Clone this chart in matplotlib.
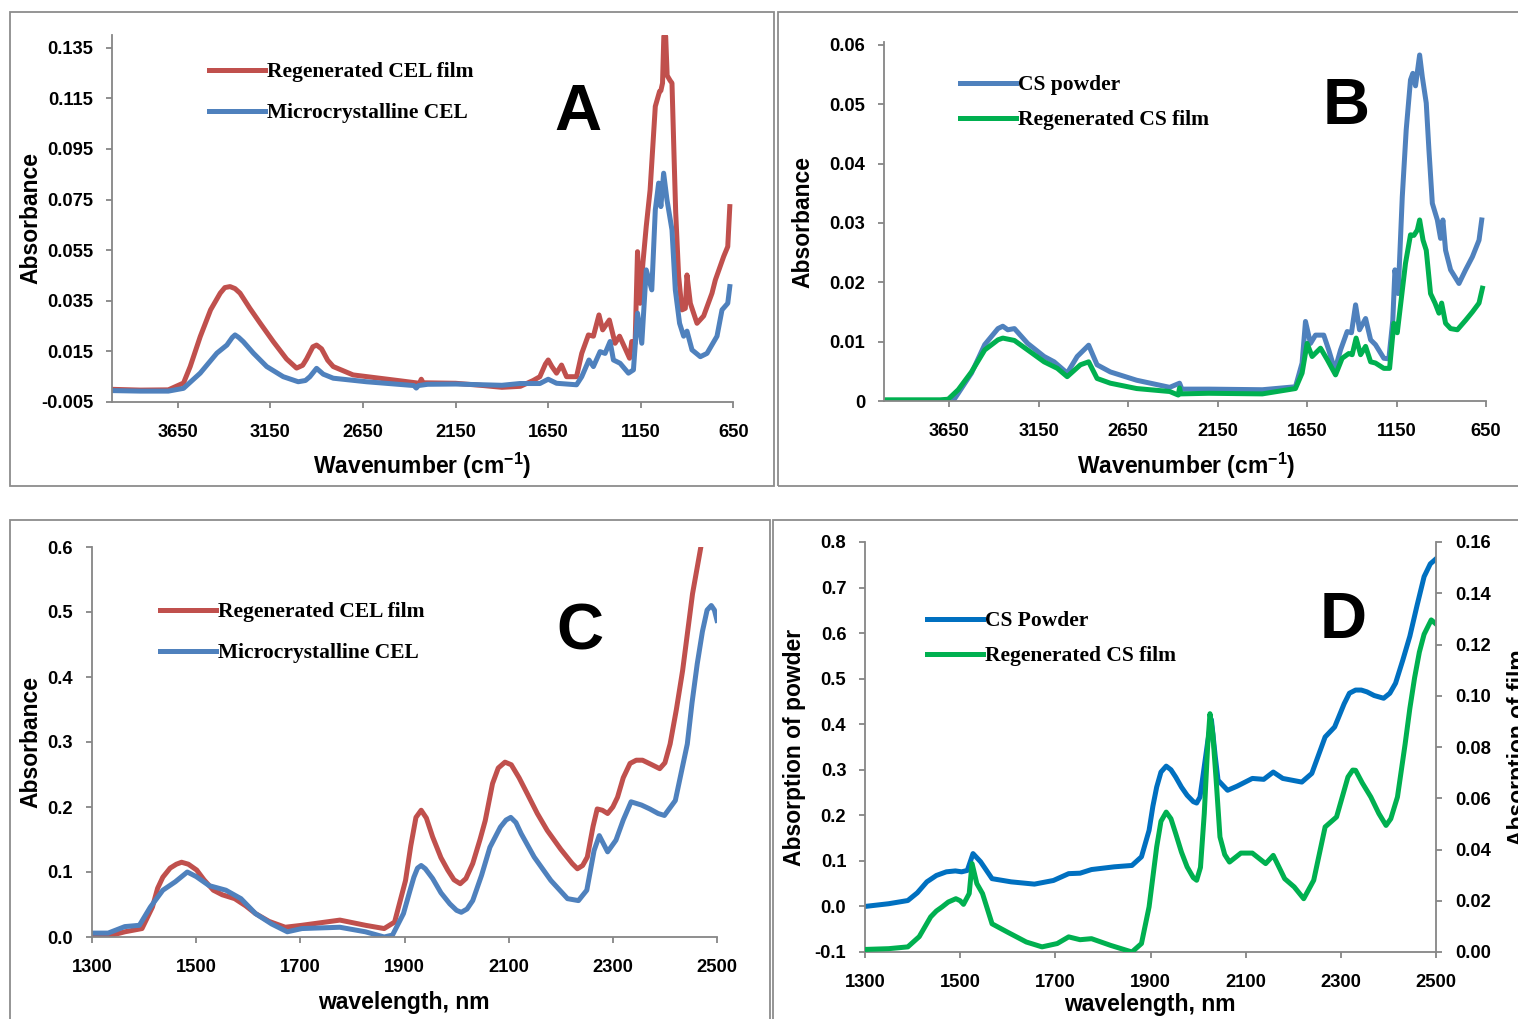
import numpy as np
import matplotlib
matplotlib.use("Agg")
import matplotlib.pyplot as plt
from matplotlib.patches import Rectangle
from matplotlib.font_manager import FontProperties

# ---- panel A : FTIR, cellulose ----
wn_a_red = [4000, 3850, 3700, 3618, 3582, 3528, 3472, 3420, 3395, 3367, 3340, 3313, 3260,
            3205, 3133, 3062, 3008, 2975, 2954, 2920, 2900, 2873, 2840, 2810, 2703, 2452,
            2345, 2335, 2325, 2150, 2000, 1900, 1800, 1731, 1695, 1665, 1650, 1630, 1605,
            1578, 1551, 1497, 1469, 1433, 1406, 1376, 1356, 1320, 1289, 1265, 1235, 1211,
            1199, 1181, 1168, 1154, 1139, 1121, 1100, 1072, 1049, 1042, 1033, 1026, 1016,
            1008, 992, 982, 970, 962, 946, 928, 910, 901, 883, 847, 811, 766, 748, 703,
            681, 670]
abs_a_red = [0.0, -0.0003, -0.0002, 0.0025, 0.009, 0.0208, 0.0314, 0.038, 0.0402, 0.0406,
             0.0398, 0.038, 0.032, 0.0262, 0.0188, 0.012, 0.0084, 0.0095, 0.012, 0.0168,
             0.0175, 0.016, 0.0115, 0.009, 0.0057, 0.0034, 0.0024, 0.004, 0.0026, 0.0024,
             0.0015, 0.0008, 0.0012, 0.0035, 0.005, 0.01, 0.0116, 0.009, 0.0064, 0.0096,
             0.005, 0.005, 0.0142, 0.0215, 0.021, 0.0294, 0.0235, 0.0274, 0.0182, 0.021,
             0.0162, 0.0123, 0.0189, 0.0182, 0.0544, 0.034, 0.0498, 0.0643, 0.0788, 0.1118,
             0.1177, 0.118, 0.121, 0.1395, 0.1395, 0.124, 0.122, 0.121, 0.09, 0.07, 0.0446,
             0.0314, 0.032, 0.0452, 0.034, 0.0261, 0.029, 0.038, 0.0432, 0.0525, 0.0564,
             0.0722]

wn_a_blue = [4000, 3850, 3700, 3618, 3528, 3438, 3384, 3355, 3340, 3320, 3295, 3241, 3169,
             3080, 2999, 2960, 2936, 2900, 2864, 2810, 2631, 2375, 2362, 2350, 2300, 2150,
             1900, 1803, 1695, 1650, 1605, 1497, 1469, 1430, 1406, 1370, 1343, 1316, 1298,
             1262, 1217, 1190, 1168, 1145, 1121, 1091, 1072, 1054, 1042, 1027, 1009, 982,
             964, 941, 919, 901, 874, 829, 793, 739, 712, 681, 670]
abs_a_blue = [-0.0005, -0.0007, -0.0007, 0.0004, 0.0064, 0.0143, 0.0175, 0.0205, 0.0215,
              0.0205, 0.0188, 0.0143, 0.009, 0.005, 0.003, 0.0035, 0.005, 0.0083, 0.006,
              0.0044, 0.003, 0.0015, 0.0005, 0.0015, 0.002, 0.0021, 0.0016, 0.0023, 0.0023,
              0.004, 0.0024, 0.0018, 0.005, 0.0116, 0.009, 0.0149, 0.0142, 0.0189, 0.0116,
              0.0103, 0.0064, 0.0077, 0.0301, 0.0182, 0.0472, 0.0393, 0.0709, 0.0815, 0.0722,
              0.0854, 0.0749, 0.063, 0.0393, 0.0261, 0.021, 0.023, 0.0156, 0.0129, 0.0142,
              0.021, 0.0314, 0.034, 0.0406]

# ---- panel B : FTIR, chitosan ----
wn_b_blue = [4000, 3660, 3640, 3600, 3526, 3452, 3378, 3351, 3323, 3286, 3212, 3120, 3064,
             2991, 2935, 2871, 2824, 2750, 2603, 2418, 2363, 2350, 2200, 1900, 1715, 1678,
             1659, 1631, 1603, 1557, 1529, 1495, 1463, 1426, 1402, 1379, 1357, 1323, 1295,
             1268, 1221, 1193, 1171, 1159, 1141, 1118, 1096, 1072, 1059, 1044, 1021, 1006,
             984, 969, 950, 922, 904, 891, 876, 848, 801, 764, 726, 689, 674]
abs_b_blue = [-0.001, -0.001, -0.0005, 0.0013, 0.0047, 0.0095, 0.0122, 0.0126, 0.012, 0.0122,
              0.0097, 0.0075, 0.0066, 0.0047, 0.0075, 0.0094, 0.0061, 0.0049, 0.0035,
              0.0023, 0.003, 0.002, 0.002, 0.0019, 0.0024, 0.0064, 0.0134, 0.0097, 0.0111,
              0.0111, 0.0086, 0.0052, 0.0086, 0.0117, 0.0115, 0.0162, 0.012, 0.0139, 0.0103,
              0.0095, 0.0072, 0.0071, 0.0136, 0.0221, 0.0181, 0.0344, 0.0457, 0.0541, 0.0552,
              0.0531, 0.0583, 0.0546, 0.0502, 0.0423, 0.0333, 0.0305, 0.0274, 0.0305, 0.0254,
              0.0221, 0.0198, 0.0221, 0.0243, 0.0271, 0.0305]

wn_b_green = [4000, 3700, 3656, 3600, 3526, 3452, 3378, 3351, 3286, 3212, 3120, 3046, 2991,
              2917, 2871, 2824, 2750, 2603, 2418, 2370, 2363, 2356, 2200, 1900, 1715, 1678,
              1650, 1622, 1575, 1538, 1491, 1454, 1417, 1398, 1376, 1351, 1323, 1295, 1268,
              1221, 1189, 1165, 1146, 1122, 1100, 1072, 1053, 1034, 1021, 1002, 984, 960, 935,
              913, 898, 876, 848, 810, 764, 726, 689, 670]
abs_b_green = [0.0002, 0.0002, 0.0003, 0.0019, 0.0049, 0.0086, 0.0103, 0.0106, 0.0102,
               0.0086, 0.0066, 0.0055, 0.0041, 0.0061, 0.0066, 0.0038, 0.003, 0.0021, 0.0016,
               0.001, 0.0022, 0.0012, 0.0013, 0.0012, 0.0021, 0.0047, 0.0097, 0.0075, 0.0089,
               0.007, 0.0044, 0.0072, 0.008, 0.0078, 0.0106, 0.0078, 0.0092, 0.0066, 0.0064,
               0.0055, 0.0055, 0.0131, 0.0115, 0.0176, 0.0232, 0.028, 0.0279, 0.0288, 0.0305,
               0.0271, 0.0254, 0.0181, 0.0165, 0.0148, 0.0165, 0.0131, 0.0122, 0.012, 0.0136,
               0.015, 0.0165, 0.019]

# ---- panel C : NIR, cellulose ----
nm_c_red = [1300, 1339, 1363, 1396, 1416, 1426, 1436, 1450, 1462, 1472, 1485, 1501, 1515,
            1533, 1550, 1574, 1595, 1614, 1640, 1671, 1703, 1776, 1825, 1861, 1881, 1902,
            1912, 1922, 1932, 1942, 1954, 1970, 1983, 1995, 2007, 2018, 2031, 2045, 2055,
            2069, 2080, 2093, 2105, 2120, 2136, 2155, 2174, 2200, 2222, 2232, 2242, 2251,
            2262, 2270, 2280, 2290, 2300, 2309, 2320, 2333, 2345, 2357, 2375, 2390, 2400,
            2410, 2422, 2434, 2453, 2469]
abs_c_red = [0.0, 0.003, 0.008, 0.013, 0.046, 0.075, 0.092, 0.106, 0.112, 0.115, 0.112,
             0.103, 0.088, 0.072, 0.065, 0.059, 0.048, 0.036, 0.024, 0.015, 0.018, 0.026,
             0.018, 0.013, 0.023, 0.087, 0.14, 0.184, 0.195, 0.183, 0.154, 0.122, 0.103,
             0.088, 0.082, 0.09, 0.113, 0.15, 0.179, 0.236, 0.26, 0.269, 0.265, 0.245, 0.22,
             0.19, 0.164, 0.135, 0.113, 0.105, 0.11, 0.123, 0.17, 0.197, 0.195, 0.19, 0.2,
             0.215, 0.245, 0.267, 0.272, 0.272, 0.265, 0.259, 0.268, 0.297, 0.35, 0.41,
             0.528, 0.6]

nm_c_blue = [1300, 1331, 1363, 1391, 1412, 1436, 1460, 1483, 1500, 1525, 1557, 1586, 1614,
             1645, 1675, 1703, 1776, 1825, 1861, 1877, 1898, 1910, 1918, 1925, 1932, 1940,
             1954, 1970, 1987, 2000, 2009, 2020, 2031, 2048, 2064, 2084, 2095, 2104, 2114,
             2124, 2149, 2181, 2213, 2234, 2250, 2264, 2274, 2290, 2306, 2320, 2335, 2355,
             2371, 2387, 2399, 2420, 2443, 2452, 2462, 2472, 2481, 2489, 2495, 2500]
abs_c_blue = [0.006, 0.006, 0.016, 0.018, 0.046, 0.072, 0.085, 0.1, 0.093, 0.079, 0.072,
              0.059, 0.036, 0.02, 0.008, 0.013, 0.015, 0.008, 0.0, 0.003, 0.036, 0.07, 0.092,
              0.106, 0.11, 0.105, 0.09, 0.068, 0.051, 0.041, 0.038, 0.043, 0.056, 0.095,
              0.138, 0.169, 0.18, 0.184, 0.176, 0.159, 0.123, 0.087, 0.059, 0.056, 0.072,
              0.133, 0.156, 0.131, 0.149, 0.18, 0.208, 0.203, 0.197, 0.19, 0.187, 0.21, 0.297,
              0.36, 0.42, 0.47, 0.503, 0.51, 0.503, 0.487]

# ---- panel D : NIR, chitosan (powder on left axis, film on right axis) ----
nm_d_powder = [1300, 1350, 1390, 1410, 1430, 1450, 1471, 1490, 1503, 1515, 1527, 1543, 1567,
               1607, 1656, 1696, 1728, 1752, 1776, 1824, 1861, 1881, 1897, 1905, 1913, 1922,
               1933, 1943, 1953, 1965, 1977, 1990, 1997, 2004, 2009, 2020, 2028, 2036, 2042,
               2062, 2082, 2114, 2138, 2158, 2178, 2218, 2239, 2267, 2287, 2307, 2318, 2331,
               2343, 2355, 2370, 2390, 2403, 2415, 2430, 2445, 2460, 2475, 2488, 2500]
abs_d_powder = [0.0, 0.006, 0.013, 0.03, 0.054, 0.068, 0.076, 0.078, 0.076, 0.079, 0.116,
                0.098, 0.061, 0.054, 0.049, 0.057, 0.072, 0.073, 0.081, 0.087, 0.09, 0.109,
                0.167, 0.22, 0.262, 0.295, 0.308, 0.3, 0.284, 0.262, 0.244, 0.23, 0.227, 0.24,
                0.277, 0.36, 0.41, 0.33, 0.277, 0.255, 0.264, 0.281, 0.279, 0.295, 0.281,
                0.273, 0.292, 0.372, 0.394, 0.445, 0.468, 0.475, 0.475, 0.471, 0.463, 0.457,
                0.468, 0.49, 0.54, 0.593, 0.66, 0.724, 0.752, 0.763]

nm_d_film = [1300, 1350, 1390, 1414, 1438, 1450, 1462, 1475, 1491, 1500, 1507, 1519, 1525,
             1535, 1547, 1567, 1599, 1639, 1672, 1704, 1728, 1752, 1776, 1816, 1861, 1881,
             1897, 1913, 1922, 1933, 1943, 1953, 1965, 1977, 1990, 1997, 2005, 2013, 2020,
             2025, 2031, 2038, 2046, 2056, 2066, 2090, 2114, 2142, 2158, 2182, 2202, 2222,
             2243, 2267, 2291, 2315, 2325, 2331, 2345, 2363, 2380, 2395, 2405, 2419, 2435,
             2445, 2455, 2465, 2475, 2490, 2500]
abs_d_film = [0.001, 0.0013, 0.002, 0.006, 0.0137, 0.016, 0.0176, 0.0195, 0.0208, 0.02,
              0.0186, 0.0228, 0.0345, 0.0267, 0.0228, 0.011, 0.0078, 0.0039, 0.002, 0.0033,
              0.0059, 0.0048, 0.0052, 0.0026, 0.0, 0.0033, 0.0176, 0.041, 0.051, 0.0546,
              0.052, 0.0462, 0.039, 0.0332, 0.029, 0.028, 0.033, 0.054, 0.08, 0.093, 0.085,
              0.067, 0.0449, 0.038, 0.0351, 0.0386, 0.0386, 0.0345, 0.0377, 0.0286, 0.0254,
              0.0208, 0.028, 0.0488, 0.0527, 0.0683, 0.071, 0.0709, 0.066, 0.0605, 0.054,
              0.0494, 0.052, 0.0605, 0.081, 0.095, 0.107, 0.117, 0.124, 0.1296, 0.128]

RED = "#C0504D"
BLUE = "#4F81BD"
GREEN = "#00B050"
BLUE_D = "#0070C0"
GRAY = "#868686"
LW = 3.6

W, H = 1518, 1019
fig = plt.figure(figsize=(W / 100, H / 100), dpi=100)
plt.rcParams["mathtext.fontset"] = "custom"
plt.rcParams["mathtext.rm"] = "Liberation Sans:bold"
plt.rcParams["mathtext.bf"] = "Liberation Sans:bold"

SANS = "Liberation Sans"
TICK_FS = 13.2
LAB_FS = 16.5
LEG_FONT = FontProperties(family="Liberation Serif", weight="bold", size=15.5)


def px_axes(l, t, r, b):
    return fig.add_axes([l / W, 1 - b / H, (r - l) / W, (b - t) / H])


def style(ax, right=False):
    for s in ["top", "right", "left", "bottom"]:
        ax.spines[s].set_visible(False)
    ax.spines["bottom"].set_visible(not right)
    ax.spines["right" if right else "left"].set_visible(True)
    for s in ax.spines.values():
        s.set_color(GRAY)
        s.set_linewidth(1.3)
    ax.tick_params(direction="out", length=4.5, width=1.3, color=GRAY, pad=9,
                   labelsize=TICK_FS)
    ax.tick_params(axis="x", pad=11)
    ax.set_facecolor("none")
    for lab in ax.get_xticklabels() + ax.get_yticklabels():
        lab.set_fontfamily(SANS)
        lab.set_fontweight("bold")


def frame(l, t, r, b):
    fig.add_artist(Rectangle((l / W, 1 - b / H), (r - l) / W, (b - t) / H,
                             transform=fig.transFigure, fill=False, ec="#8c8c8c", lw=1.3))


def legend(ax, handles, x, y_top, spacing):
    ax.legend(handles=handles, loc="upper left", bbox_to_anchor=(x / W, 1 - y_top / H),
              bbox_transform=fig.transFigure, frameon=False, prop=LEG_FONT,
              handlelength=2.6, handletextpad=0.1, labelspacing=spacing,
              borderpad=0, borderaxespad=0)


def ftext(x, y, s, **kw):
    fig.text(x / W, 1 - y / H, s, fontfamily=SANS, fontweight="bold", **kw)


frame(10, 12, 774, 486)
frame(778, 12, 1530, 486)
frame(10, 520, 770, 1030)
frame(773, 520, 1530, 1030)

# ---- A ----
axA = px_axes(112, 35, 733.5, 402)
lr, = axA.plot(wn_a_red, abs_a_red, color=RED, lw=LW, solid_joinstyle="round",
               label="Regenerated CEL film")
lb, = axA.plot(wn_a_blue, abs_a_blue, color=BLUE, lw=LW, solid_joinstyle="round",
               label="Microcrystalline CEL")
axA.set_xlim(4004, 650)
axA.set_ylim(-0.005, 0.14)
axA.set_xticks(np.arange(650, 3651, 500))
yt = np.arange(-0.005, 0.1351, 0.02)
axA.set_yticks(yt)
axA.set_yticklabels([f"{v:.3f}" for v in yt])
style(axA)
legend(axA, [lr, lb], 209, 62, 0.98)
ftext(31, 218, "Absorbance", rotation=90, ha="center", va="center", fontsize=LAB_FS)
ftext(422, 466, r"Wavenumber (cm$^{-1}$)", ha="center", va="center", fontsize=LAB_FS)
ftext(578, 130, "A", ha="center", va="baseline", fontsize=47)

# ---- B ----
axB = px_axes(884, 42.5, 1486, 401)
lb2, = axB.plot(wn_b_blue, abs_b_blue, color=BLUE, lw=LW, solid_joinstyle="round",
                label="CS powder")
lg2, = axB.plot(wn_b_green, abs_b_green, color=GREEN, lw=LW, solid_joinstyle="round",
                label="Regenerated CS film")
axB.set_xlim(4015, 650)
axB.set_ylim(0, 0.0604)
axB.set_xticks(np.arange(650, 3651, 500))
yt = np.arange(0, 0.0601, 0.01)
axB.set_yticks(yt)
axB.set_yticklabels(["0"] + [f"{v:.2f}" for v in yt[1:]])
style(axB)
legend(axB, [lb2, lg2], 960, 75, 0.7)
ftext(803, 222, "Absorbance", rotation=90, ha="center", va="center", fontsize=LAB_FS)
ftext(1186, 466, r"Wavenumber (cm$^{-1}$)", ha="center", va="center", fontsize=LAB_FS)
ftext(1346, 124, "B", ha="center", va="baseline", fontsize=47)

# ---- C ----
axC = px_axes(92, 547, 717, 937)
lr3, = axC.plot(nm_c_red, abs_c_red, color=RED, lw=LW, solid_joinstyle="round",
                label="Regenerated CEL film")
lb3, = axC.plot(nm_c_blue, abs_c_blue, color=BLUE, lw=LW, solid_joinstyle="round",
                label="Microcrystalline CEL")
axC.set_xlim(1300, 2500)
axC.set_ylim(0, 0.6)
axC.set_xticks(np.arange(1300, 2501, 200))
yt = np.arange(0, 0.61, 0.1)
axC.set_yticks(yt)
axC.set_yticklabels([f"{v:.1f}" for v in yt])
style(axC)
legend(axC, [lr3, lb3], 160, 602, 0.98)
ftext(31, 742, "Absorbance", rotation=90, ha="center", va="center", fontsize=LAB_FS)
ftext(404, 1002, "wavelength, nm", ha="center", va="center", fontsize=LAB_FS)
ftext(580, 650, "C", ha="center", va="baseline", fontsize=47)

# ---- D ----
axD = px_axes(865, 542, 1436, 952)
lb4, = axD.plot(nm_d_powder, abs_d_powder, color=BLUE_D, lw=LW, solid_joinstyle="round",
                label="CS Powder")
axD.set_xlim(1300, 2500)
axD.set_ylim(-0.1, 0.8)
axD.set_xticks(np.arange(1300, 2501, 200))
yt = np.arange(-0.1, 0.81, 0.1)
axD.set_yticks(yt)
axD.set_yticklabels([f"{v:.1f}" for v in yt])
style(axD)
axD2 = axD.twinx()
lg4, = axD2.plot(nm_d_film, abs_d_film, color=GREEN, lw=LW, solid_joinstyle="round",
                 label="Regenerated CS film")
axD2.set_ylim(0, 0.16)
yt = np.arange(0, 0.161, 0.02)
axD2.set_yticks(yt)
axD2.set_yticklabels([f"{v:.2f}" for v in yt])
style(axD2, right=True)
legend(axD2, [lb4, lg4], 927, 611, 0.7)
ftext(795, 747, "Absorption of powder", rotation=90, ha="center", va="center",
      fontsize=LAB_FS)
ftext(1507, 748, "Absorption of film", rotation=90, ha="left", va="center", fontsize=LAB_FS)
ftext(1150, 1005, "wavelength, nm", ha="center", va="center", fontsize=LAB_FS)
ftext(1343, 638, "D", ha="center", va="baseline", fontsize=47)

fig.savefig("out.png", dpi=100)
